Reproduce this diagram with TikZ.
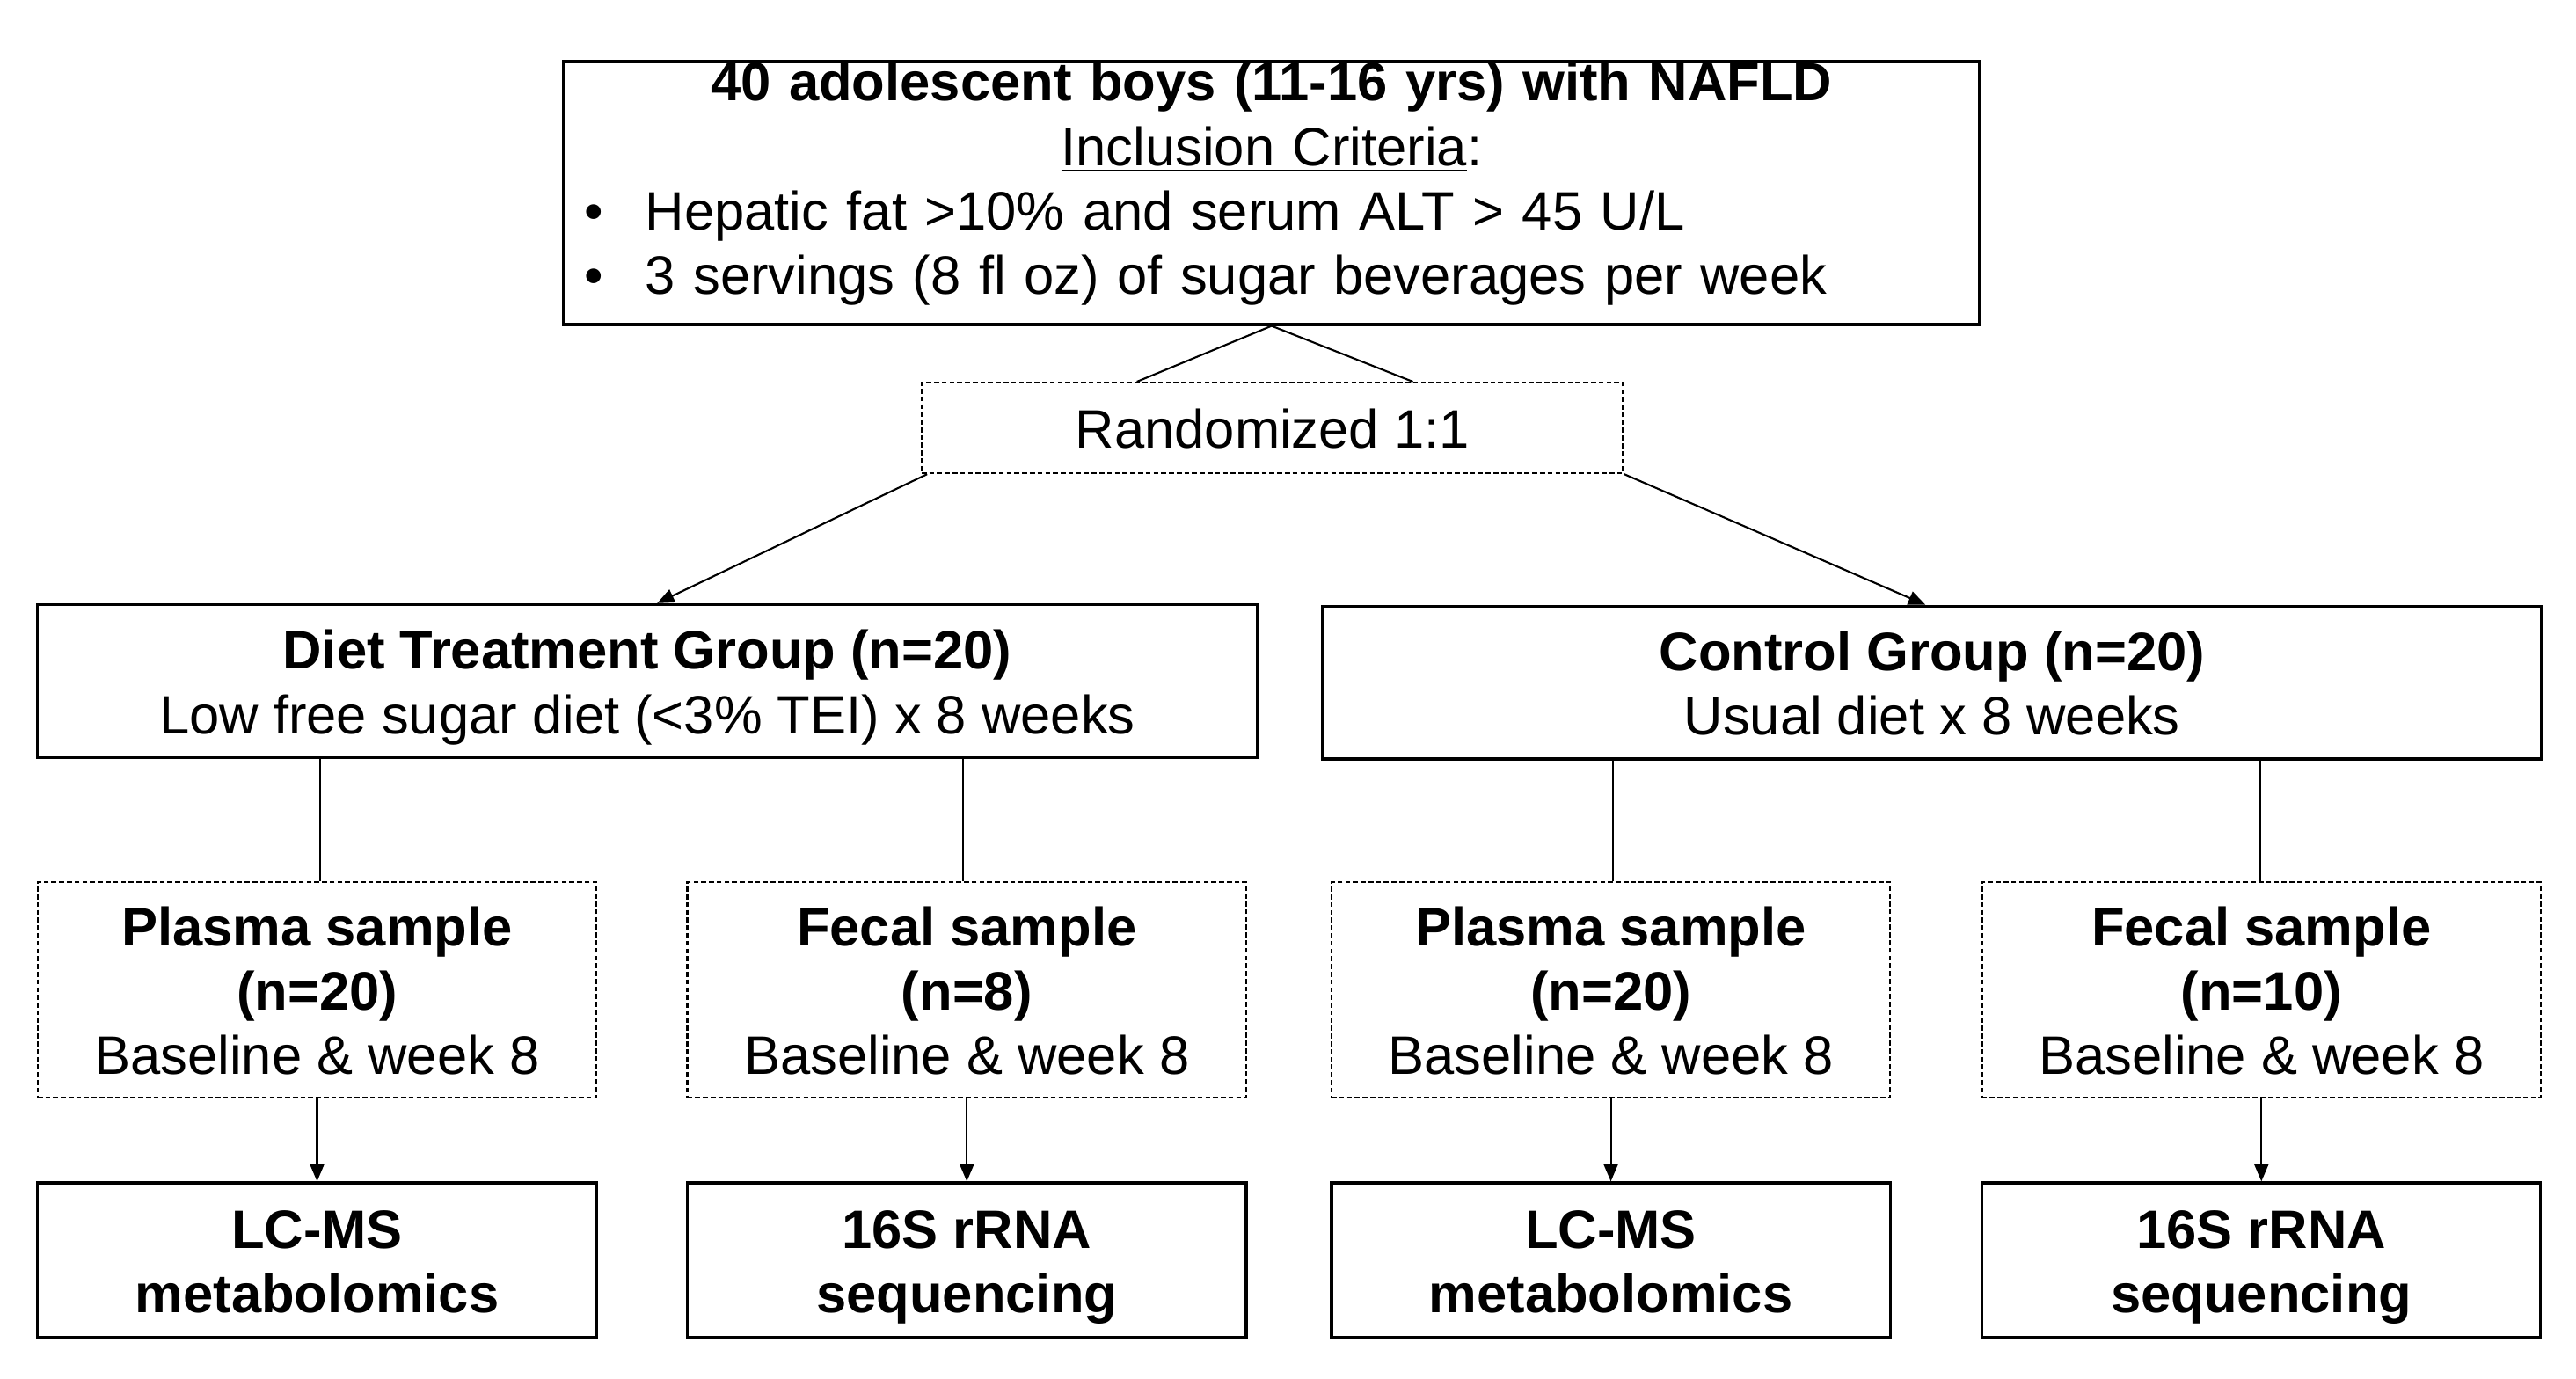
\documentclass[tikz,border=0pt]{standalone}
\usepackage{fontspec}
\setmainfont{Liberation Sans}
\usetikzlibrary{calc,arrows.meta}
\newcommand\vst{\rule[-3.9pt]{0pt}{20.9pt}}
\begin{document}
\begin{tikzpicture}[x=0.01868cm,y=-0.01868cm,
  every node/.style={font=\fontsize{17.5}{20.9}\selectfont, inner sep=0pt},
  solidbox/.style={draw, line width=0.9pt, align=center},
  dotbox/.style={draw, line width=0.7pt, dash pattern=on 1.6pt off 0.9pt, align=center},
  topsize/.style={minimum width=16.102cm, minimum height=2.970cm},
  randsize/.style={minimum width=7.976cm, minimum height=1.027cm},
  groupsize/.style={minimum width=13.861cm, minimum height=1.737cm},
  sampsize/.style={minimum width=6.351cm, minimum height=2.447cm},
  endsize/.style={minimum width=6.351cm, minimum height=1.756cm},
  conn/.style={line width=0.6pt},
  arr/.style={line width=0.6pt, -{Triangle[length=5.5pt,width=4.5pt]}}]
\useasboundingbox (0,0) rectangle (1568,838.9);

\node[draw, line width=0.9pt, topsize, text width=15.62cm, align=left] (top) at (774,117.5)
 {{\centering\textbf{40 adolescent boys (11-16 yrs) with NAFLD}\\\underline{Inclusion Criteria}:\par}
  \makebox[0.69cm][l]{\textbullet}Hepatic fat >10\% and serum ALT > 45 U/L\\
  \makebox[0.69cm][l]{\textbullet}3 servings (8 fl oz) of sugar beverages per week\rule[-0.34cm]{0pt}{0pt}};

\node[dotbox, randsize] (rand) at (774.5,260.5) {\vst Randomized 1:1};

\node[solidbox, groupsize] (diet) at (394,414.5) {\vst\textbf{Diet Treatment Group (n=20)}\\\vst Low free sugar diet (<3\% TEI) x 8 weeks};
\node[solidbox, groupsize] (ctrl) at (1176,415.5) {\vst\textbf{Control Group (n=20)}\\\vst Usual diet x 8 weeks};

\node[dotbox, sampsize] (s1) at (193,602.5) {\vst\textbf{Plasma sample}\\\vst\textbf{(n=20)}\\\vst Baseline \& week 8};
\node[dotbox, sampsize] (s2) at (588.5,602.5) {\vst\textbf{Fecal sample}\\\vst\textbf{(n=8)}\\\vst Baseline \& week 8};
\node[dotbox, sampsize] (s3) at (980.5,602.5) {\vst\textbf{Plasma sample}\\\vst\textbf{(n=20)}\\\vst Baseline \& week 8};
\node[dotbox, sampsize] (s4) at (1376.5,602.5) {\vst\textbf{Fecal sample}\\\vst\textbf{(n=10)}\\\vst Baseline \& week 8};

\node[solidbox, endsize] (e1) at (193,767) {\vst\textbf{LC-MS}\\\vst\textbf{metabolomics}};
\node[solidbox, endsize] (e2) at (588.5,767) {\vst\textbf{16S rRNA}\\\vst\textbf{sequencing}};
\node[solidbox, endsize] (e3) at (980.5,767) {\vst\textbf{LC-MS}\\\vst\textbf{metabolomics}};
\node[solidbox, endsize] (e4) at (1376.5,767) {\vst\textbf{16S rRNA}\\\vst\textbf{sequencing}};

\draw[conn] (top.south) -- ($(rand.north)+(-82.5,0)$);
\draw[conn] (top.south) -- ($(rand.north)+(85.5,0)$);

\draw[arr] ($(rand.south west)+(4,0)$) -- ($(diet.north)+(6,0)$);
\draw[arr] (rand.south east) -- ($(ctrl.north)+(-4,0)$);

\draw[conn] ($(diet.south -| s1.north)+(2,0)$) -- ($(s1.north)+(2,0)$);
\draw[conn] ($(diet.south -| s2.north)+(-2.5,0)$) -- ($(s2.north)+(-2.5,0)$);
\draw[conn] ($(ctrl.south -| s3.north)+(1.5,0)$) -- ($(s3.north)+(1.5,0)$);
\draw[conn] ($(ctrl.south -| s4.north)+(-0.5,0)$) -- ($(s4.north)+(-0.5,0)$);

\foreach \i in {1,2,3,4} \draw[arr] (s\i.south) -- (e\i.north);
\end{tikzpicture}
\end{document}
